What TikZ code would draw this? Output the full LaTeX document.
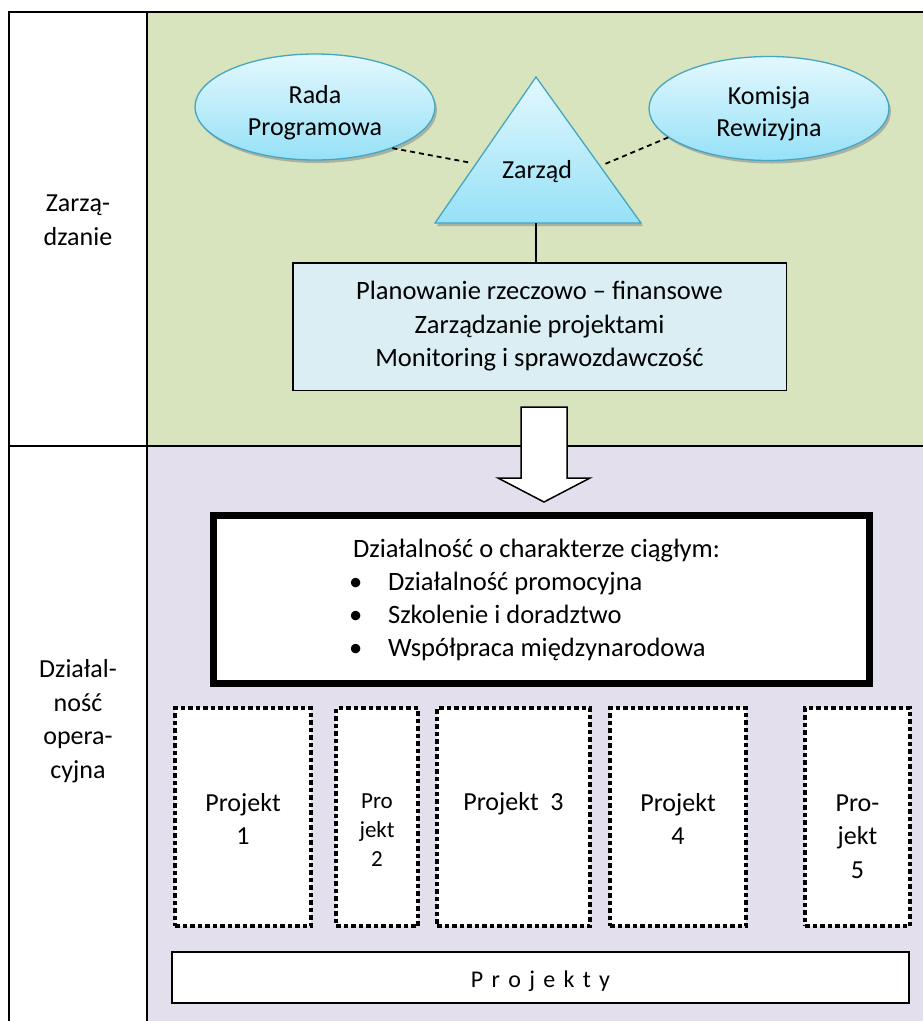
\documentclass[tikz,border=0pt]{standalone}
\usepackage{fontspec}
\setmainfont{Carlito}
\usetikzlibrary{shapes.geometric,shadows}
\definecolor{greenbg}{HTML}{D7E4BD}
\definecolor{purplebg}{HTML}{E4DFEC}
\definecolor{planfill}{HTML}{DAEEF3}
\definecolor{bordblue}{HTML}{46A5C2}
\definecolor{elltop}{HTML}{E3F8FE}
\definecolor{ellbot}{HTML}{96E1F7}
\newcommand\bulmark{\hspace*{-4pt}\makebox[39pt][l]{•}}
\begin{document}
\begin{tikzpicture}[x=1pt,y=-1pt,
  every node/.style={font=\fontsize{26}{33.5}\selectfont},
  gridline/.style={line width=2pt,draw=black},
  bluefill/.style={draw=bordblue, line width=1.3pt, top color=elltop, bottom color=ellbot,
    drop shadow={shadow xshift=2pt,shadow yshift=-3pt,fill=black!50,opacity=.5}},
  bubble/.style={ellipse, bluefill, inner sep=0pt},
  bubbletext/.style={align=center, font=\fontsize{26}{32}\selectfont},
  planbox/.style={draw, line width=1.5pt, fill=planfill, align=center,
    minimum width=493.5pt, minimum height=127.5pt, font=\fontsize{26.5}{33.5}\selectfont},
  thickbox/.style={draw, line width=7pt, fill=white, align=left,
    minimum width=656pt, minimum height=168pt, font=\fontsize{26.5}{33}\selectfont},
  projbox/.style={draw, fill=white, line width=4.5pt, dash pattern=on 4.5pt off 3pt,
    minimum height=218pt, inner sep=0pt},
  projtext/.style={align=center, anchor=base, inner sep=0pt},
  dashline/.style={line width=1.8pt, dash pattern=on 5pt off 4pt},
  collabel/.style={align=center},
  barbox/.style={draw, line width=1.5pt, fill=white, minimum width=737pt, minimum height=51pt,
    font=\fontsize{24}{28}\selectfont, text height=19pt, text depth=0pt}
]
\useasboundingbox (0,0) rectangle (923,1021);
% backgrounds
\fill[white] (0,0) rectangle (923,1021);
\fill[greenbg] (147,12) rectangle (923,446);
\fill[purplebg] (147,446) rectangle (923,1021);
% grid
\draw[gridline] (923,12) -- (9,12) -- (9,1021);
\draw[gridline] (147,12) -- (147,1021);
\draw[gridline] (9,446) -- (923,446);
% row labels
\node[collabel] (lzarz) at (78,220) {Zarzą-\\dzanie};
\node[collabel] (ldzial) at (78,721) {Działal-\\ność\\opera-\\cyjna};
% management
\node[bubble, minimum width=240pt, minimum height=106pt] (rada) at (315,107) {};
\node[bubbletext] (radatxt) at ([yshift=-5.5pt]rada.center) {Rada\\Programowa};
\node[bubble, minimum width=240pt, minimum height=104pt] (komisja) at (769,108.5) {};
\node[bubbletext] (komisjatxt) at ([yshift=-5.5pt]komisja.center) {Komisja\\Rewizyjna};
\coordinate (apex) at (536,77);
\coordinate (bl) at (435,223);
\coordinate (br) at (641,223);
\path[bluefill] (apex) -- (br) -- (bl) -- cycle;
\node (zarzad) at (537,172) {Zarząd};
\coordinate (triL) at (472,163);
\coordinate (triR) at (605,164);
\coordinate (triB) at (536,223);
\draw[dashline] (rada.-28) -- (triL);
\draw[dashline] (komisja.196) -- (triR);
\node[planbox] (plan) at (539.5,326.5) {Planowanie rzeczowo – finansowe\\Zarządzanie projektami\\Monitoring i sprawozdawczość};
\draw[line width=1.3pt] (triB) -- (triB |- plan.north);
% block arrow
\draw[line width=1.5pt, fill=white] (521,407) -- (567,407) -- (567,478) -- (590,478) -- (544,502) -- (498,478) -- (521,478) -- cycle;
% operations
\node[thickbox] (ciagly) at (541.5,599.5) {Działalność o charakterze ciągłym:\hspace*{10pt}\\\bulmark Działalność promocyjna\\\bulmark Szkolenie i doradztwo\\\bulmark Współpraca międzynarodowa};
\node[projbox, minimum width=136pt] (p1) at (243,817) {};
\node[projbox, minimum width=82pt] (p2) at (377,817) {};
\node[projbox, minimum width=153pt] (p3) at (513.5,817) {};
\node[projbox, minimum width=136pt] (p4) at (678,817) {};
\node[projbox, minimum width=105pt] (p5) at (857.5,817) {};
\node[projtext] (t1) at (243,844.5) {Projekt\\1};
\node[projtext, font=\fontsize{23}{29}\selectfont] (t2) at (377,866.5) {Pro\\jekt\\2};
\node[projtext] (t3) at (513.5,810) {Projekt~ 3};
\node[projtext] (t4) at (678,844.5) {Projekt\\4};
\node[projtext] (t5) at (857.5,878) {Pro-\\jekt\\5};
\node[barbox] (projekty) at (540.5,977.5) {\spaceskip=8.3pt P r o j e k t y};
\end{tikzpicture}
\end{document}
